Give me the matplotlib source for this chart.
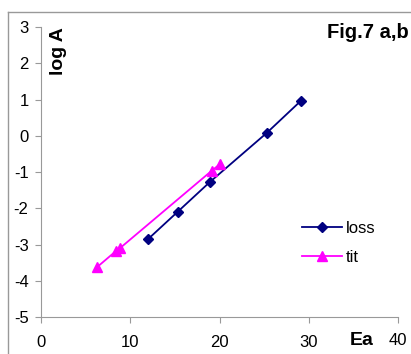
import matplotlib
matplotlib.use('Agg')
import matplotlib.pyplot as plt
from matplotlib.lines import Line2D

plt.rcParams['font.family'] = ['Liberation Sans', 'DejaVu Sans']
plt.rcParams['axes.unicode_minus'] = False

# data
loss_x = [12.0, 15.3, 18.9, 25.3, 29.1]
loss_y = [-2.85, -2.10, -1.28, 0.08, 0.96]
tit_x = [6.3, 8.4, 8.85, 19.15, 20.05]
tit_y = [-3.62, -3.18, -3.10, -0.96, -0.78]

fig = plt.figure(figsize=(4.11, 3.54), dpi=100)
ax = fig.add_axes([0.0998, 0.1045, 0.8686, 0.8192])

# thin grey frame round the whole chart
fig.add_artist(Line2D([8 / 411, 8 / 411], [0, 1 - 12 / 354], color='#999999', lw=1))
fig.add_artist(Line2D([8 / 411, 1], [1 - 12 / 354, 1 - 12 / 354], color='#999999', lw=1))

ax.plot(loss_x, loss_y, color='#000080', marker='D', markersize=5.5, lw=1.3, label='loss')
ax.plot(tit_x, tit_y, color='#FF00FF', marker='^', markersize=7, lw=1.3, label='tit')

ax.set_xlim(0, 40)
ax.set_ylim(-5, 3)
ax.set_xticks([0, 10, 20, 30, 40])
ax.set_yticks(range(-5, 4))
ax.set_xticklabels(['0', '10', '20', '30', ''])
for s in ['top', 'right']:
    ax.spines[s].set_visible(False)
for s in ['left', 'bottom']:
    ax.spines[s].set_color('#999999')
ax.tick_params(colors='#999999', labelcolor='black', labelsize=12, length=4)
ax.tick_params(axis='x', pad=9)
ax.tick_params(axis='y', pad=5)

ax.text(40, -5.66, '40', ha='center', va='center', fontsize=12)
ax.text(35.9, -5.66, 'Ea', ha='center', va='center', fontsize=14, fontweight='bold')
ax.text(2.0, 2.35, 'log A', rotation=90, ha='center', va='center', fontsize=14, fontweight='bold')
ax.text(41.2, 2.85, 'Fig.7 a,b', ha='right', va='center', fontsize=14.5, fontweight='bold')

ax.legend(loc='center left', bbox_to_anchor=(0.69, 0.255), frameon=False, fontsize=12,
          handlelength=2.4, handletextpad=0.2, labelspacing=0.85)

fig.savefig('out.png', dpi=100)
